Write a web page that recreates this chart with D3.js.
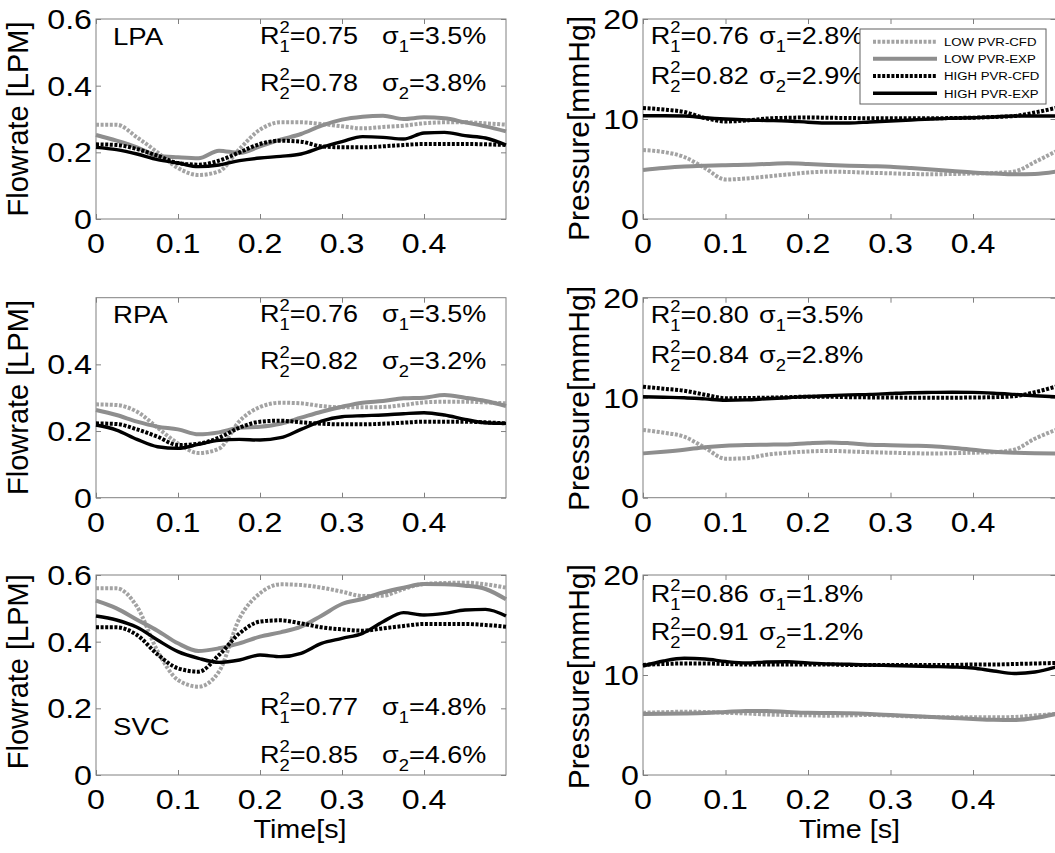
<!DOCTYPE html>
<html>
<head>
<meta charset="utf-8">
<script src="https://cdn.jsdelivr.net/npm/d3@7"></script>
<style>
  body { margin: 0; background: #fff; }
  text { font-family: "Liberation Sans", Arial, sans-serif; fill: #000; }
</style>
</head>
<body>
<div id="chart"></div>
<script>
"use strict";

// time samples [s]
const time = [0, 0.025, 0.05, 0.075, 0.1, 0.125, 0.15, 0.175, 0.2, 0.225, 0.25,
              0.275, 0.3, 0.325, 0.35, 0.375, 0.4, 0.425, 0.45, 0.475, 0.5];

const seriesNames = ["LOW PVR-CFD", "LOW PVR-EXP", "HIGH PVR-CFD", "HIGH PVR-EXP"];
const panelNames = ["LPA", "RPA", "SVC"];

// flowrate [LPM]
const lpaFlowLowCfd  = [0.283, 0.283, 0.245, 0.2, 0.153, 0.132, 0.143, 0.21, 0.268, 0.29, 0.29, 0.285, 0.278, 0.272, 0.276, 0.28, 0.287, 0.29, 0.29, 0.287, 0.283];
const lpaFlowLowExp  = [0.252, 0.235, 0.215, 0.19, 0.185, 0.182, 0.205, 0.198, 0.218, 0.238, 0.255, 0.28, 0.298, 0.307, 0.31, 0.3, 0.305, 0.302, 0.29, 0.278, 0.263];
const lpaFlowHighCfd = [0.224, 0.222, 0.21, 0.19, 0.168, 0.163, 0.175, 0.2, 0.225, 0.235, 0.232, 0.218, 0.215, 0.215, 0.218, 0.222, 0.225, 0.225, 0.225, 0.224, 0.222];
const lpaFlowHighExp = [0.215, 0.208, 0.195, 0.178, 0.168, 0.157, 0.162, 0.175, 0.183, 0.188, 0.195, 0.215, 0.232, 0.247, 0.245, 0.24, 0.258, 0.26, 0.25, 0.243, 0.222];

const rpaFlowLowCfd  = [0.28, 0.278, 0.258, 0.21, 0.163, 0.134, 0.147, 0.23, 0.272, 0.285, 0.283, 0.275, 0.271, 0.271, 0.272, 0.278, 0.286, 0.288, 0.288, 0.286, 0.283];
const rpaFlowLowExp  = [0.263, 0.248, 0.228, 0.213, 0.205, 0.19, 0.196, 0.21, 0.213, 0.222, 0.24, 0.258, 0.273, 0.285, 0.29, 0.298, 0.3, 0.308, 0.3, 0.29, 0.275];
const rpaFlowHighCfd = [0.223, 0.221, 0.205, 0.183, 0.158, 0.162, 0.18, 0.21, 0.228, 0.231, 0.226, 0.222, 0.22, 0.22, 0.222, 0.225, 0.228, 0.228, 0.228, 0.226, 0.223];
const rpaFlowHighExp = [0.218, 0.203, 0.175, 0.153, 0.148, 0.16, 0.172, 0.175, 0.173, 0.18, 0.205, 0.23, 0.243, 0.246, 0.248, 0.252, 0.255, 0.248, 0.235, 0.225, 0.223];

const svcFlowLowCfd  = [0.56, 0.56, 0.505, 0.372, 0.285, 0.265, 0.31, 0.47, 0.545, 0.572, 0.57, 0.562, 0.55, 0.537, 0.538, 0.558, 0.573, 0.576, 0.577, 0.572, 0.562];
const svcFlowLowExp  = [0.523, 0.5, 0.466, 0.433, 0.395, 0.372, 0.38, 0.395, 0.415, 0.428, 0.445, 0.478, 0.513, 0.528, 0.548, 0.562, 0.573, 0.572, 0.568, 0.558, 0.527];
const svcFlowHighCfd = [0.443, 0.443, 0.42, 0.362, 0.32, 0.31, 0.36, 0.425, 0.46, 0.464, 0.455, 0.443, 0.437, 0.433, 0.44, 0.447, 0.453, 0.453, 0.453, 0.45, 0.445];
const svcFlowHighExp = [0.477, 0.465, 0.443, 0.405, 0.37, 0.35, 0.338, 0.345, 0.36, 0.355, 0.365, 0.395, 0.41, 0.425, 0.46, 0.487, 0.48, 0.485, 0.495, 0.497, 0.477];

// pressure [mmHg]
const lpaPressLowCfd  = [6.9, 6.7, 6.2, 5.1, 3.95, 4.05, 4.25, 4.45, 4.65, 4.73, 4.7, 4.62, 4.57, 4.5, 4.47, 4.5, 4.55, 4.6, 4.75, 5.7, 6.75];
const lpaPressLowExp  = [4.9, 5.1, 5.25, 5.33, 5.38, 5.42, 5.5, 5.57, 5.5, 5.4, 5.33, 5.28, 5.23, 5.1, 4.95, 4.8, 4.65, 4.55, 4.47, 4.5, 4.73];
const lpaPressHighCfd = [11.1, 10.95, 10.7, 10.1, 9.75, 9.85, 10.05, 10.12, 10.15, 10.12, 10.1, 10.07, 10.07, 10.07, 10.07, 10.1, 10.13, 10.2, 10.3, 10.65, 11.1];
const lpaPressHighExp = [10.33, 10.33, 10.3, 10.13, 10.0, 9.9, 9.85, 9.8, 9.68, 9.6, 9.6, 9.7, 9.8, 9.9, 10.0, 10.07, 10.13, 10.2, 10.3, 10.3, 10.3];

const rpaPressLowCfd  = [6.77, 6.5, 6.1, 5.0, 3.9, 3.95, 4.3, 4.5, 4.62, 4.68, 4.62, 4.55, 4.5, 4.45, 4.42, 4.45, 4.5, 4.55, 4.8, 5.9, 6.77];
const rpaPressLowExp  = [4.43, 4.6, 4.8, 5.05, 5.2, 5.27, 5.3, 5.33, 5.45, 5.53, 5.45, 5.3, 5.25, 5.2, 5.15, 5.0, 4.8, 4.6, 4.5, 4.45, 4.43];
const rpaPressHighCfd = [11.1, 10.9, 10.7, 10.3, 9.95, 9.97, 10.0, 10.05, 10.1, 10.1, 10.05, 10.03, 10.02, 10.0, 10.0, 10.0, 10.02, 10.05, 10.15, 10.55, 11.1];
const rpaPressHighExp = [10.1, 10.05, 10.0, 9.88, 9.75, 9.78, 9.9, 10.0, 10.12, 10.2, 10.28, 10.33, 10.42, 10.5, 10.53, 10.55, 10.53, 10.45, 10.33, 10.2, 10.1];

const svcPressLowCfd  = [6.23, 6.28, 6.33, 6.3, 6.22, 6.15, 6.05, 6.0, 5.97, 5.93, 5.97, 6.0, 5.95, 5.85, 5.8, 5.77, 5.77, 5.77, 5.8, 5.95, 6.1];
const svcPressLowExp  = [6.1, 6.12, 6.15, 6.2, 6.3, 6.4, 6.4, 6.3, 6.22, 6.2, 6.17, 6.1, 6.0, 5.9, 5.8, 5.7, 5.6, 5.52, 5.5, 5.7, 6.1];
const svcPressHighCfd = [11.0, 11.1, 11.15, 11.15, 11.1, 11.05, 11.05, 11.05, 11.05, 11.05, 11.0, 11.0, 11.0, 11.0, 11.0, 11.0, 11.05, 11.05, 11.1, 11.15, 11.2];
const svcPressHighExp = [10.9, 11.4, 11.67, 11.6, 11.35, 11.2, 11.3, 11.33, 11.2, 11.1, 11.07, 11.0, 10.95, 10.9, 10.85, 10.8, 10.7, 10.4, 10.15, 10.3, 10.8];

// fit statistics
const flowR2     = [["0.75", "0.78"], ["0.76", "0.82"], ["0.77", "0.85"]];
const flowSigma  = [["3.5%", "3.8%"], ["3.5%", "3.2%"], ["4.8%", "4.6%"]];
const pressR2    = [["0.76", "0.82"], ["0.80", "0.84"], ["0.86", "0.91"]];
const pressSigma = [["2.8%", "2.9%"], ["3.5%", "2.8%"], ["1.8%", "1.2%"]];

// tick labels
const timeTicks = [0, 0.1, 0.2, 0.3, 0.4];
const flowTicks = [[0, 0.2, 0.4, 0.6], [0, 0.2, 0.4], [0, 0.2, 0.4, 0.6]];
const pressTicks = [0, 10, 20];

const flowData = [
    [lpaFlowLowCfd, lpaFlowLowExp, lpaFlowHighCfd, lpaFlowHighExp],
    [rpaFlowLowCfd, rpaFlowLowExp, rpaFlowHighCfd, rpaFlowHighExp],
    [svcFlowLowCfd, svcFlowLowExp, svcFlowHighCfd, svcFlowHighExp]
];
const pressData = [
    [lpaPressLowCfd, lpaPressLowExp, lpaPressHighCfd, lpaPressHighExp],
    [rpaPressLowCfd, rpaPressLowExp, rpaPressHighCfd, rpaPressHighExp],
    [svcPressLowCfd, svcPressLowExp, svcPressHighCfd, svcPressHighExp]
];

// layout
const msm = { width: 1055, height: 853 };
const SX = 1.15;   // the figure is a little stretched sideways
const rows = [
    { top: 19, bottom: 219, flowLabelY: 119, pressLabelY: 128.5 },
    { top: 297.7, bottom: 497.7, flowLabelY: 397.5, pressLabelY: 398.5 },
    { top: 575, bottom: 775, flowLabelY: 671.7, pressLabelY: 676.7 }
];
const cols = {
    flow: { left: 96, right: 506 },
    press: { left: 643, right: 1055.5 }
};
const styles = [
    { color: "#a3a3a3", width: 4, dash: "3,1.6" },
    { color: "#8e8e8e", width: 4, dash: null },
    { color: "#000", width: 4, dash: "3,1.6" },
    { color: "#000", width: 3.4, dash: null }
];
const axisColor = "#808080";

const svg = d3.select("#chart").append("svg")
    .attr("width", msm.width)
    .attr("height", msm.height);

function addText(g, x, y, str, size, anchor) {
    return g.append("text")
        .attr("transform", "translate(" + x + "," + y + ") scale(" + SX + ",1)")
        .attr("font-size", size)
        .attr("text-anchor", anchor || "start")
        .text(str);
}

// R^2_n=... or sigma_n=... with stacked super/subscripts
function statText(g, x, y, base, sub, sup, value) {
    let t = g.append("text")
        .attr("transform", "translate(" + x + "," + y + ") scale(" + SX + ",1)")
        .attr("font-size", 23.5);
    t.append("tspan").text(base);
    if (sup) {
        t.append("tspan").attr("font-size", 16).attr("dy", -11).text(sup);
        t.append("tspan").attr("font-size", 16).attr("dx", -8.9).attr("dy", 19).text(sub);
        t.append("tspan").attr("dy", -8).text(value);
    } else {
        t.append("tspan").attr("font-size", 16).attr("dy", 8).text(sub);
        t.append("tspan").attr("dy", -8).text(value);
    }
}

function drawPanel(col, row, yDomain, yTickVals, series) {
    let g = svg.append("g");
    let x = d3.scaleLinear().domain([0, 0.5]).range([col.left, col.right]);
    let y = d3.scaleLinear().domain(yDomain).range([row.bottom, row.top]);

    // inward ticks on all four sides
    let axes = [
        { ax: d3.axisBottom(x).tickValues(timeTicks), tr: "translate(0," + row.bottom + ")" },
        { ax: d3.axisTop(x).tickValues(timeTicks), tr: "translate(0," + row.top + ")" },
        { ax: d3.axisLeft(y).tickValues(yTickVals), tr: "translate(" + col.left + ",0)" },
        { ax: d3.axisRight(y).tickValues(yTickVals), tr: "translate(" + col.right + ",0)" }
    ];
    axes.forEach((a) => {
        let ag = g.append("g").attr("transform", a.tr)
            .call(a.ax.tickSize(-5).tickFormat(""));
        ag.select(".domain").remove();
        ag.selectAll("line").attr("stroke", axisColor);
    });

    g.append("rect")
        .attr("x", col.left).attr("y", row.top)
        .attr("width", col.right - col.left).attr("height", row.bottom - row.top)
        .attr("fill", "none").attr("stroke", axisColor).attr("stroke-width", 1);

    // tick labels
    timeTicks.forEach((t) => addText(g, x(t), row.bottom + 34, String(t), 28, "middle"));
    yTickVals.forEach((v) => addText(g, col.left - 4, y(v) + 10, String(v), 28, "end"));

    let line = d3.line()
        .x((d, i) => x(time[i]))
        .y((d) => y(d))
        .curve(d3.curveMonotoneX);

    series.forEach((s, i) => {
        g.append("path")
            .datum(s)
            .attr("d", line)
            .attr("fill", "none")
            .attr("stroke", styles[i].color)
            .attr("stroke-width", styles[i].width)
            .attr("stroke-dasharray", styles[i].dash);
    });
    return g;
}

// flowrate column
rows.forEach((row, r) => {
    let g = drawPanel(cols.flow, row, [0, 0.6], flowTicks[r], flowData[r]);
    g.append("text")
        .attr("transform", "translate(27.5," + row.flowLabelY + ") rotate(-90)")
        .attr("font-size", 29)
        .attr("text-anchor", "middle")
        .text("Flowrate [LPM]");
});

// pressure column
rows.forEach((row, r) => {
    let g = drawPanel(cols.press, row, [0, 20], pressTicks, pressData[r]);
    g.append("text")
        .attr("transform", "translate(588.5," + row.pressLabelY + ") rotate(-90)")
        .attr("font-size", 30)
        .attr("text-anchor", "middle")
        .text("Pressure[mmHg]");
});

// statistics, flow panels
const flowStatY = [[44, 91], [322, 368.5], [715, 763]];
const nameY = [45, 323, 735];
flowStatY.forEach((ys, r) => {
    addText(svg, 113, nameY[r], panelNames[r], 24);
    ys.forEach((yy, k) => {
        statText(svg, 260, yy, "R", String(k + 1), "2", "=" + flowR2[r][k]);
        statText(svg, 382, yy, "\u03c3", String(k + 1), null, "=" + flowSigma[r][k]);
    });
});

// statistics, pressure panels
const pressStatY = [[44.3, 84], [323.3, 363.3], [601.7, 640]];
pressStatY.forEach((ys, r) => {
    ys.forEach((yy, k) => {
        statText(svg, 650.7, yy, "R", String(k + 1), "2", "=" + pressR2[r][k]);
        statText(svg, 759, yy, "\u03c3", String(k + 1), null, "=" + pressSigma[r][k]);
    });
});

// x-axis titles
addText(svg, 300, 838, "Time[s]", 25, "middle");
addText(svg, 849.5, 838, "Time [s]", 25, "middle");

// legend
let legend = svg.append("g");
legend.append("rect")
    .attr("x", 860).attr("y", 29)
    .attr("width", 186).attr("height", 75)
    .attr("fill", "#fff").attr("stroke", "#606060").attr("stroke-width", 1);
const legendRowY = [41.7, 58.7, 76, 93.3];
seriesNames.forEach((name, i) => {
    legend.append("line")
        .attr("x1", 873).attr("x2", 937)
        .attr("y1", legendRowY[i]).attr("y2", legendRowY[i])
        .attr("stroke", styles[i].color)
        .attr("stroke-width", styles[i].width)
        .attr("stroke-dasharray", styles[i].dash);
    addText(legend, 944, legendRowY[i] + 4.2, name, 11.5);
});
</script>
</body>
</html>
